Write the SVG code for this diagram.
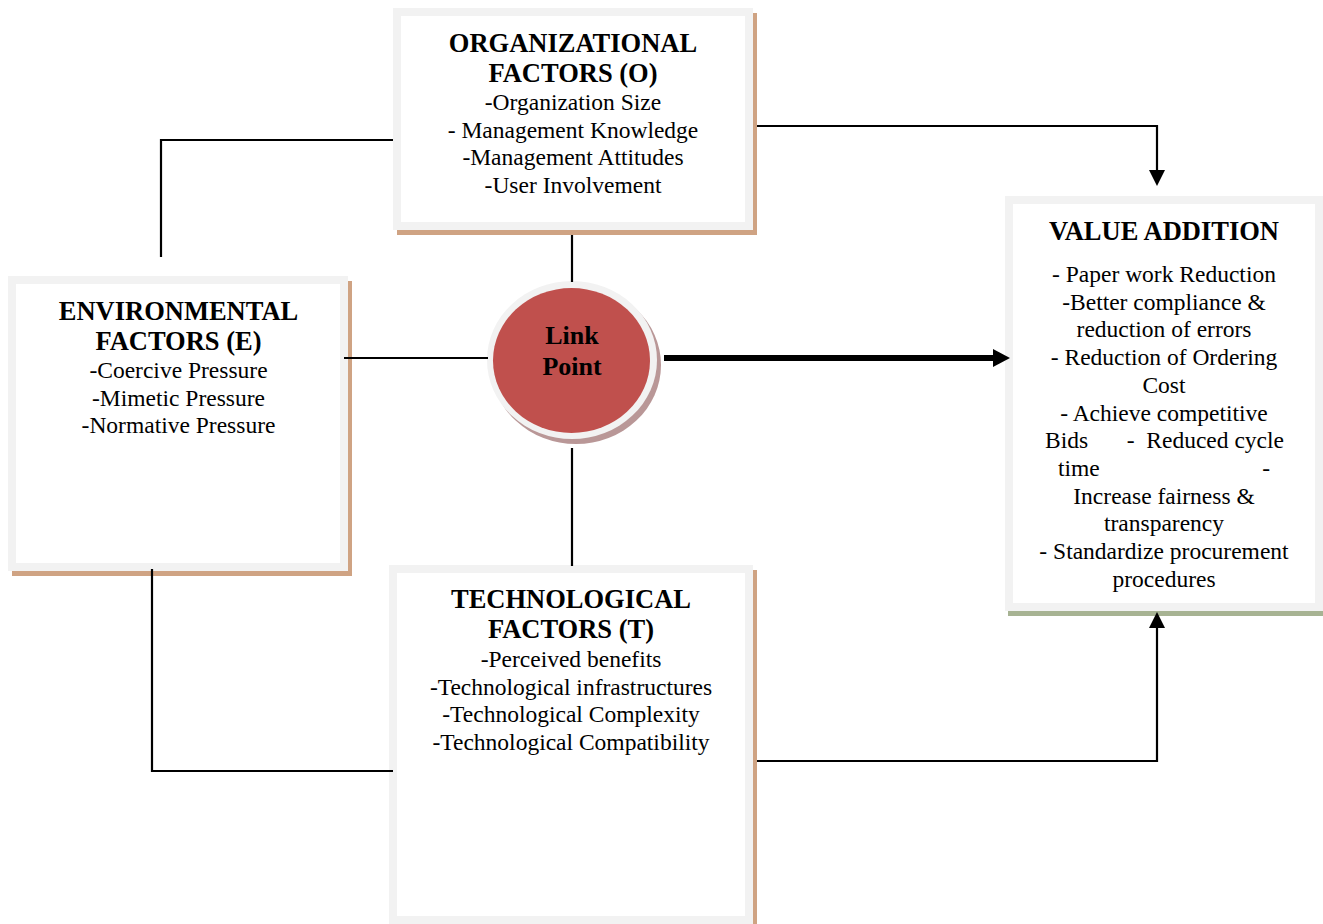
<svg xmlns="http://www.w3.org/2000/svg" width="1323" height="924" viewBox="0 0 1323 924">
  <style>
    .frame { fill: #ffffff; stroke: #f2f2f2; stroke-width: 8; }
    .shadow-tan { fill: #cfa383; }
    .shadow-green { fill: #a7b393; }
    .title { font-family: "Liberation Serif", "Times New Roman", serif; font-weight: bold; font-size: 26.5px; fill: #000; text-anchor: middle; }
    .body { font-family: "Liberation Serif", "Times New Roman", serif; font-size: 23.5px; fill: #000; text-anchor: middle; }
    .body.start { text-anchor: start; }
    .body.end { text-anchor: end; }
    .hub { font-family: "Liberation Serif", "Times New Roman", serif; font-weight: bold; font-size: 26px; fill: #000; text-anchor: middle; }
    .wire { fill: none; stroke: #000; stroke-width: 2.2; }
    .wire-bold { fill: none; stroke: #000; stroke-width: 6; }
  </style>
  <defs>
    <marker id="head" markerUnits="userSpaceOnUse" viewBox="0 0 16 16" refX="0" refY="8" markerWidth="16" markerHeight="16" orient="auto">
      <path d="M0,0 L16,8 L0,16 Z" fill="#000"/>
    </marker>
    <marker id="head-bold" markerUnits="userSpaceOnUse" viewBox="0 0 17 18" refX="0" refY="9" markerWidth="17" markerHeight="18" orient="auto">
      <path d="M0,0 L17,9 L0,18 Z" fill="#000"/>
    </marker>
  </defs>

  <rect width="1323" height="924" fill="#ffffff"/>

  <!-- organizational factors -->
  <g id="organizational">
    <rect class="shadow-tan" x="397" y="13" width="360" height="222"/>
    <rect class="frame" x="397" y="12" width="352" height="214"/>
    <text class="title" x="573" y="52">ORGANIZATIONAL</text>
    <text class="title" x="573" y="82">FACTORS (O)</text>
    <text class="body" x="573" y="110">-Organization Size</text>
    <text class="body" x="573" y="137.5">- Management Knowledge</text>
    <text class="body" x="573" y="165">-Management Attitudes</text>
    <text class="body" x="573" y="192.5">-User Involvement</text>
  </g>

  <!-- environmental factors -->
  <g id="environmental">
    <rect class="shadow-tan" x="12" y="281" width="340" height="295"/>
    <rect class="frame" x="12" y="280" width="332" height="287"/>
    <text class="title" x="178.5" y="320">ENVIRONMENTAL</text>
    <text class="title" x="178.5" y="350">FACTORS (E)</text>
    <text class="body" x="178.5" y="378">-Coercive Pressure</text>
    <text class="body" x="178.5" y="406">-Mimetic Pressure</text>
    <text class="body" x="178.5" y="433">-Normative Pressure</text>
  </g>

  <!-- technological factors -->
  <g id="technological">
    <rect class="shadow-tan" x="393" y="570" width="364" height="360"/>
    <rect class="frame" x="393" y="569" width="356" height="351"/>
    <text class="title" x="571" y="608">TECHNOLOGICAL</text>
    <text class="title" x="571" y="638">FACTORS (T)</text>
    <text class="body" x="571" y="667">-Perceived benefits</text>
    <text class="body" x="571" y="694.5">-Technological infrastructures</text>
    <text class="body" x="571" y="722">-Technological Complexity</text>
    <text class="body" x="571" y="749.5">-Technological Compatibility</text>
  </g>

  <!-- link point hub -->
  <g id="link-point">
    <ellipse cx="576" cy="365" rx="85" ry="79" fill="#b99797"/>
    <ellipse cx="572" cy="360" rx="85" ry="79" fill="#f2f2f2"/>
    <ellipse cx="571.5" cy="360.5" rx="78.5" ry="72.5" fill="#c0504d"/>
    <text class="hub" x="572" y="344">Link</text>
    <text class="hub" x="572" y="375">Point</text>
  </g>

  <!-- value addition -->
  <g id="value-addition">
    <rect class="shadow-green" x="1008" y="201" width="320" height="415"/>
    <rect class="frame" x="1009" y="200" width="310" height="407"/>
    <text class="title" x="1164" y="240">VALUE ADDITION</text>
    <text class="body" x="1164" y="282">- Paper work Reduction</text>
    <text class="body" x="1164" y="309.7">-Better compliance &amp;</text>
    <text class="body" x="1164" y="337.4">reduction of errors</text>
    <text class="body" x="1164" y="365.1">- Reduction of Ordering</text>
    <text class="body" x="1164" y="392.8">Cost</text>
    <text class="body" x="1164" y="420.5">- Achieve competitive</text>
    <text class="body start" x="1045" y="448.2">Bids</text>
    <text class="body end" x="1284" y="448.2" xml:space="preserve">-  Reduced cycle</text>
    <text class="body start" x="1058" y="475.9">time</text>
    <text class="body end" x="1270" y="475.9">-</text>
    <text class="body" x="1164" y="503.6">Increase fairness &amp;</text>
    <text class="body" x="1164" y="531.3">transparency</text>
    <text class="body" x="1164" y="559">- Standardize procurement</text>
    <text class="body" x="1164" y="586.7">procedures</text>
  </g>

  <!-- connectors -->
  <g id="connectors">
    <path class="wire" d="M393,140 H161 V257"/>
    <path class="wire" d="M572,235 V282"/>
    <path class="wire" d="M344,358 H488"/>
    <path class="wire" d="M572,448 V566"/>
    <path class="wire" d="M152,569 V771 H393"/>
    <path class="wire" d="M757,126 H1157 V170" marker-end="url(#head)"/>
    <path class="wire" d="M757,761 H1157 V628" marker-end="url(#head)"/>
    <path class="wire-bold" d="M664,358 H993" marker-end="url(#head-bold)"/>
  </g>
</svg>
